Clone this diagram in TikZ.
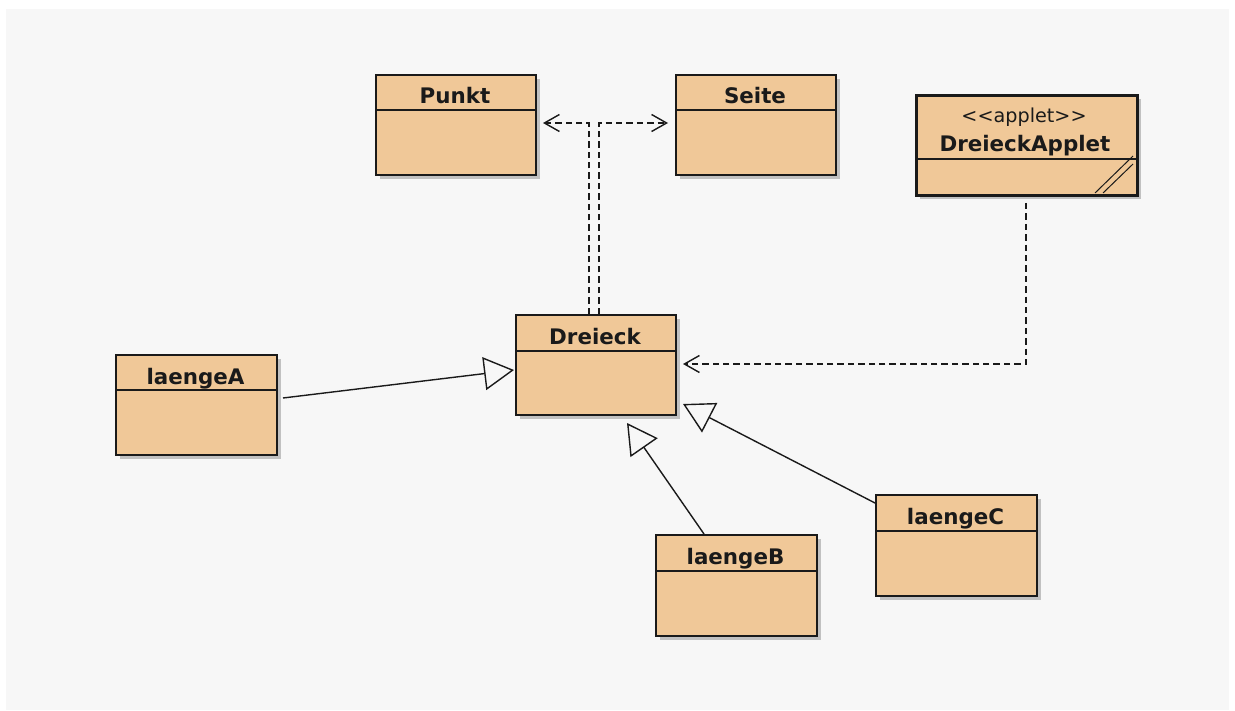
\documentclass[tikz,border=0pt]{standalone}
\usepackage{fontspec}
\setmainfont{DejaVu Sans}
\usetikzlibrary{arrows.meta,shadows}
\definecolor{bgpanel}{HTML}{F7F7F7}
\definecolor{boxfill}{HTML}{F0C898}
\definecolor{ink}{HTML}{1A1A1A}
\tikzset{
  classbox/.style={draw=ink, line width=0.8pt, fill=boxfill, rectangle, inner sep=0pt,
    anchor=north west, drop shadow={shadow xshift=1.9pt, shadow yshift=-1.9pt, opacity=0.45}},
  divider/.style={draw=ink, line width=0.55pt},
  classtitle/.style={font=\bfseries\fontsize{10.7}{12}\selectfont, anchor=base, inner sep=0pt, text=ink},
  stereo/.style={font=\fontsize{9.6}{11}\selectfont, anchor=base, inner sep=0pt, text=ink},
  gen/.style={draw=ink, line width=0.7pt, -{Triangle[open, length=15pt, width=16.5pt, line width=0.7pt]}},
  dep/.style={draw=ink, line width=0.55pt, dash pattern=on 3.2pt off 2pt,
    -{Straight Barb[length=7.5pt, width=8.5pt, line width=0.7pt]}},
}
\newcommand\umlclass[7]{%
  \node[classbox, minimum width=#4*0.5pt, minimum height=#5*0.5pt] (#1) at (#2,#3) {};
  \draw[divider] (#1.north west) ++(0,#6) -- ++(#4,0);
  \node[classtitle] (#1t) at ({#2+#4/2},{#3+30}) {#7};
}
\begin{document}
\begin{tikzpicture}[x=0.5pt,y=-0.5pt]
\useasboundingbox (0,0) rectangle (1235,711);
\fill[white] (0,0) rectangle (1235,711);
\fill[bgpanel] (6,9) rectangle (1229,710);

% classes
\umlclass{P}{375}{74}{160}{100}{36}{Punkt}
\umlclass{S}{675}{74}{160}{100}{36}{Seite}
\umlclass{D}{515}{314}{160}{100}{37}{Dreieck}
\umlclass{LA}{115}{354}{161}{100}{36}{laengeA}
\umlclass{LB}{655}{534}{161}{101}{37}{laengeB}
\umlclass{LC}{875}{494}{161}{101}{37}{laengeC}

% applet class
\node[classbox, line width=1.6pt, minimum width=221*0.5pt, minimum height=100*0.5pt] (DA) at (915,94) {};
\draw[divider] (DA.north west) ++(0,65) -- ++(221,0);
\node[stereo] (DAs) at (1024,123) {{<}{<}applet{>}{>}};
\node[classtitle] (DAt) at (1025,152) {DreieckApplet};
\draw[ink, line width=0.5pt] (1095,193) -- (1133,156);
\draw[ink, line width=0.5pt] (1103,193) -- (1133,164);

% connector end points
\coordinate (aS) at (283,398);  \coordinate (aT) at (514,370);
\coordinate (bS) at (704,534);  \coordinate (bT) at (627,423);
\coordinate (cS) at (875,503);  \coordinate (cT) at (683,404);
\coordinate (dS) at (1026,203); \coordinate (dC) at (1026,364); \coordinate (dT) at (683,364);
\coordinate (pS) at (589,314);  \coordinate (pC) at (589,123);  \coordinate (pT) at (543,123);
\coordinate (sS) at (599,314);  \coordinate (sC) at (599,123);  \coordinate (sT) at (668,123);

% generalisations
\draw[gen] (aS) -- (aT);
\draw[gen] (bS) -- (bT);
\draw[gen] (cS) -- (cT);

% dependencies
\draw[dep] (dS) -- (dC) -- (dT);
\draw[dep] (pS) -- (pC) -- (pT);
\draw[dep] (sS) -- (sC) -- (sT);
\end{tikzpicture}
\end{document}
